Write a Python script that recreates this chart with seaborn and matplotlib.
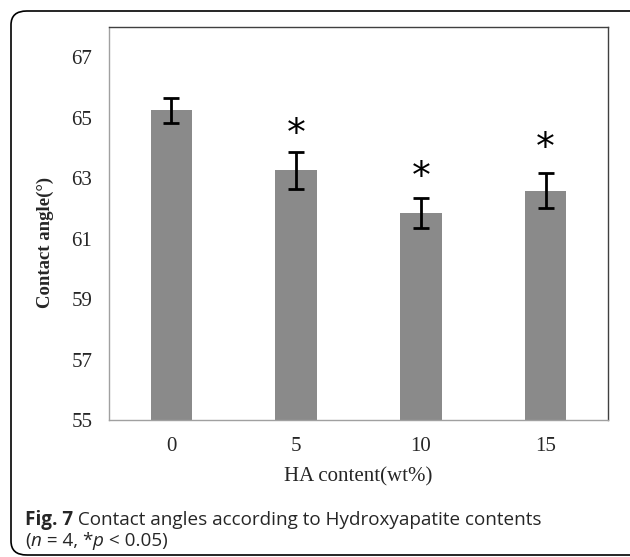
import seaborn as sns
import matplotlib.pyplot as plt
import pandas as pd
from matplotlib.patches import FancyBboxPatch

# Data
ha_content = ["0", "5", "10", "15"]
contact_angle = [65.24, 63.26, 61.84, 62.59]
errors = [0.42, 0.62, 0.50, 0.59]
significant = [False, True, True, True]
star_y = [None, 64.44, 63.0, 63.96]

df = pd.DataFrame({"HA": ha_content, "angle": contact_angle})

sns.set_style("white")
fig = plt.figure(figsize=(6.3, 5.57), dpi=100)
ax = fig.add_axes([109 / 630, 1 - 420 / 557, 499 / 630, 393 / 557])

sns.barplot(data=df, x="HA", y="angle", color="#8a8a8a", saturation=1,
            width=0.333, errorbar=None, ax=ax)
for p in ax.patches:
    p.set_edgecolor("none")

ax.errorbar(range(len(ha_content)), contact_angle, yerr=errors, fmt="none",
            ecolor="black", elinewidth=2, capsize=6, capthick=2)

for i, (sig, y) in enumerate(zip(significant, star_y)):
    if sig:
        ax.text(i, y, "*", ha="center", va="center", fontsize=27,
                family="DejaVu Sans", color="black")

ax.set_ylim(55, 68)
ax.set_xlim(-0.5, 3.5)
ax.set_yticks(range(55, 68, 2))
ax.tick_params(length=0, labelsize=15, pad=12)
for lab in ax.get_xticklabels() + ax.get_yticklabels():
    lab.set_family("Liberation Serif")
ax.set_xlabel("HA content(wt%)", family="Liberation Serif", fontsize=15, labelpad=8)
ax.set_ylabel("")
fig.text(45 / 630, 1 - 242 / 557, "Contact angle(\u00b0)", rotation=90,
         ha="center", va="center", family="Liberation Serif",
         fontweight="bold", fontsize=13.5)

for side in ["left", "bottom"]:
    ax.spines[side].set_color("#a0a0a0")
for side in ["top", "right"]:
    ax.spines[side].set_color("#404040")
for s in ax.spines.values():
    s.set_linewidth(1)

# outer rounded box
box = FancyBboxPatch((11 / 630, 2 / 557), 640 / 630, 544 / 557,
                     boxstyle="round,pad=0,rounding_size=0.025",
                     transform=fig.transFigure, fill=False,
                     edgecolor="black", linewidth=1.2, clip_on=False)
fig.patches.append(box)

# caption, drawn as runs of text
fig.canvas.draw()
renderer = fig.canvas.get_renderer()


def runs(x, y, parts):
    for txt, kw in parts:
        t = fig.text(x, y, txt, va="center", ha="left", family="Open Sans",
                     fontsize=13.6, **kw)
        bb = t.get_window_extent(renderer)
        x += bb.width / (fig.dpi * 6.3)


runs(25 / 630, 1 - 520 / 557, [("Fig. 7", {"fontweight": "bold"}),
                               (" Contact angles according to Hydroxyapatite contents", {})])
runs(25 / 630, 1 - 541 / 557, [("(", {}), ("n", {"style": "italic"}),
                               (" = 4, *", {}), ("p", {"style": "italic"}),
                               (" < 0.05)", {})])

fig.savefig("out.png", dpi=100)
